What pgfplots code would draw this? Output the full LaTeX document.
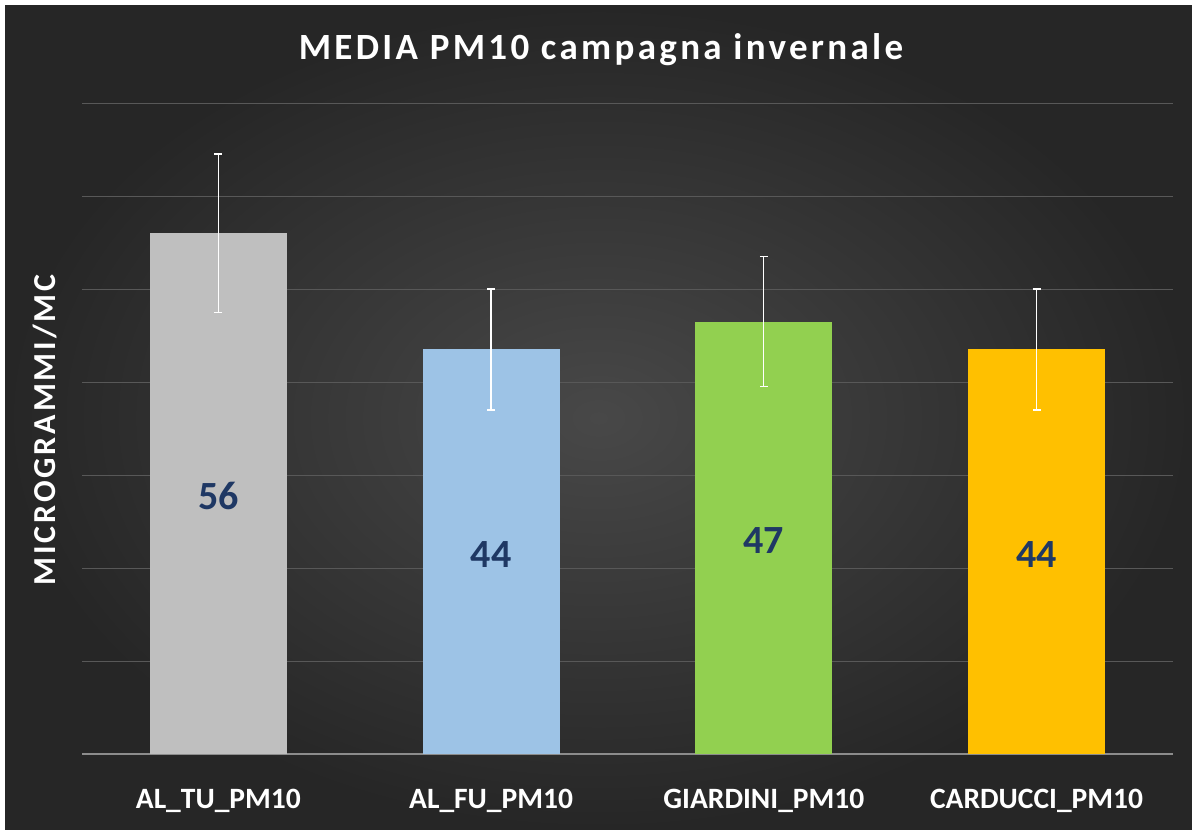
\documentclass[border=0pt]{standalone}
\usepackage{fontspec}
\setmainfont{Carlito}
\newfontfamily\titlefont[LetterSpace=9]{Carlito}
\newfontfamily\ylabfont[LetterSpace=9]{Carlito}
\usepackage{pgfplots}
\pgfplotsset{compat=1.18}
\definecolor{bgc}{HTML}{484848}
\definecolor{bgo}{HTML}{262626}
\definecolor{gridc}{HTML}{585858}
\definecolor{basec}{HTML}{8C8C8C}
\definecolor{cgray}{HTML}{BFBFBF}
\definecolor{cblue}{HTML}{9DC3E6}
\definecolor{cgreen}{HTML}{92D050}
\definecolor{cgold}{HTML}{FFC000}
\definecolor{navy}{HTML}{1F3864}
\pgfplotsset{errb/.style={error bars/y dir=both, error bars/y explicit,
    error bars/error bar style={white, line width=1.3pt},
    error bars/error mark options={white, mark size=4pt, line width=1.3pt, rotate=90}}}
\begin{document}
\begin{tikzpicture}[x=1pt,y=1pt]
\fill[white] (0,0) rectangle (1192,830);
\shade[inner color=bgc, outer color=bgo] (5,0) rectangle (1192,824);
\begin{axis}[
  at={(82pt,76pt)}, anchor=south west,
  scale only axis, width=1091pt, height=651pt,
  xmin=-0.5, xmax=3.5, ymin=0, ymax=70,
  enlargelimits=false, clip=false,
  axis line style={draw=none},
  major tick length=0pt,
  ytick={10,20,30,40,50,60,70}, yticklabels={},
  ymajorgrids, grid style={gridc, line width=0.8pt},
  extra y ticks={0}, extra y tick labels={},
  extra tick style={grid style={basec, line width=1.2pt}},
  xtick={0,1,2,3},
  xticklabels={AL\_TU\_PM10, AL\_FU\_PM10, GIARDINI\_PM10, CARDUCCI\_PM10},
  xticklabel style={font=\fontsize{29.5}{34}\selectfont\bfseries, text=white, yshift=-32pt},
  ybar, bar width=137pt, bar shift=0pt,
]
\addplot[fill=cgray, draw=none, errb] coordinates {(0,56) +- (0,8.5)};
\addplot[fill=cblue, draw=none, errb] coordinates {(1,43.5) +- (0,6.5)};
\addplot[fill=cgreen, draw=none, errb] coordinates {(2,46.5) +- (0,7)};
\addplot[fill=cgold, draw=none, errb] coordinates {(3,43.5) +- (0,6.5)};
\addplot[draw=none, mark=none, nodes near coords, point meta=explicit symbolic,
  every node near coord/.append style={anchor=center, text=navy,
    font=\fontsize{40}{46}\selectfont\bfseries}]
  coordinates {(0,27.7)[56] (1,21.4)[44] (2,23)[47] (3,21.4)[44]};
\end{axis}
\node[text=white, font=\titlefont\fontsize{37}{44}\selectfont\bfseries] at (601,780) {MEDIA PM10 campagna invernale};
\node[text=white, rotate=90, font=\ylabfont\fontsize{32}{36}\selectfont\bfseries] at (45,400) {MICROGRAMMI/MC};
\end{tikzpicture}
\end{document}
